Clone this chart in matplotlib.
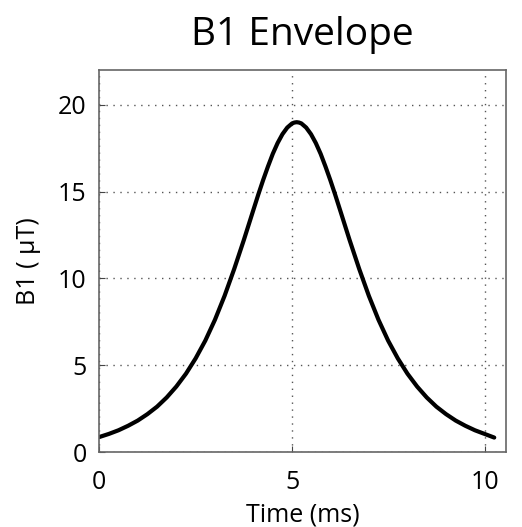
import matplotlib
matplotlib.use("Agg")
import matplotlib.pyplot as plt

plt.rcParams['font.family'] = ['Open Sans', 'DejaVu Sans']

# Data
time_ms = [0.0, 0.25, 0.5, 0.75, 1.0, 1.25, 1.5, 1.75, 2.0, 2.25, 2.5, 2.75,
           3.0, 3.25, 3.5, 3.75, 4.0, 4.125, 4.25, 4.375, 4.5, 4.625, 4.75,
           4.875, 5.0, 5.06, 5.12, 5.18, 5.24, 5.365, 5.49, 5.615, 5.74, 5.865,
           5.99, 6.115, 6.24, 6.49, 6.74, 6.99, 7.24, 7.49, 7.74,
           7.99, 8.24, 8.49, 8.74, 8.99, 9.24, 9.49, 9.74, 9.99, 10.24]
b1_uT = [0.87, 1.05, 1.26, 1.52, 1.82, 2.19, 2.62, 3.15, 3.78, 4.52, 5.40, 6.42,
         7.62, 9.00, 10.55, 12.22, 13.97, 14.84, 15.67, 16.45, 17.18, 17.80, 18.31,
         18.69, 18.93, 18.98, 19.00, 18.98, 18.93, 18.69, 18.31, 17.80, 17.18, 16.45,
         15.67, 14.84, 13.97, 12.22, 10.55, 9.00, 7.62, 6.42, 5.40,
         4.52, 3.78, 3.15, 2.62, 2.19, 1.82, 1.52, 1.26, 1.05, 0.84]

x_ticks = [0, 5, 10]
y_ticks = [0, 5, 10, 15, 20]

fig = plt.figure(figsize=(5.22, 5.27), dpi=100)
ax = fig.add_axes([0.190, 0.142, 0.779, 0.725])
ax.plot(time_ms, b1_uT, color='black', linewidth=3.0, solid_joinstyle='round',
        solid_capstyle='round')
ax.set_xlim(0, 10.54)
ax.set_ylim(0, 22)
ax.set_xticks(x_ticks)
ax.set_yticks(y_ticks)
ax.grid(True, linestyle=(0, (1, 4)), color='#555555', linewidth=1.0)
ax.tick_params(direction='in', length=4, labelsize=18, color='#444444')
ax.tick_params(axis='x', pad=13)
ax.tick_params(axis='y', pad=9)
for s in ax.spines.values():
    s.set_color('#666666')
    s.set_linewidth(1.2)
ax.set_xlabel('Time (ms)', fontsize=18, labelpad=5)
ax.set_ylabel('B1 ( μT)', fontsize=18, labelpad=12)
ax.set_title('B1 Envelope', fontsize=28, pad=18)

fig.savefig('out.png', dpi=100)
